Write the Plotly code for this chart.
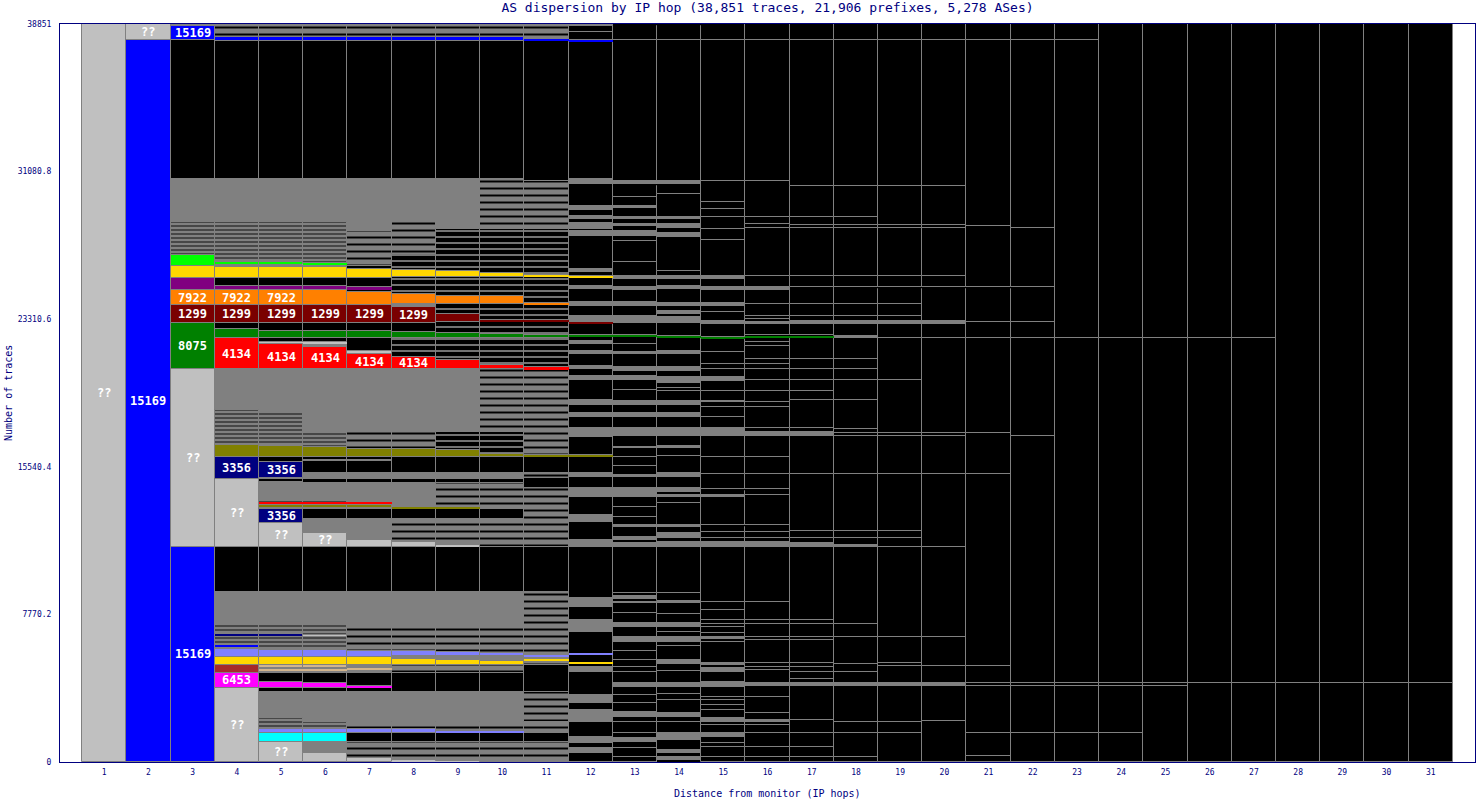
import plotly.graph_objects as go

TOTAL_TRACES = 38851
chart_title = "AS dispersion by IP hop (38,851 traces, 21,906 prefixes, 5,278 ASes)"
x_title = "Distance from monitor (IP hops)"
y_title = "Number of traces"
hops = list(range(1, 32))
y_tick_values = [0, 7770.2, 15540.4, 23310.6, 31080.8, 38851]
y_tick_labels = ["0", "7770.2", "15540.4", "23310.6", "31080.8", "38851"]

# Each hop column: segments from bottom to top as
# (cumulative trace count at segment top, colour code, optional AS label)
hop01 = [(38851, "L", "??")]
hop02 = [(38008, "B", "15169"), (38851, "L", "??")]
hop03 = [(11334, "B", "15169"), (20665, "L", "??"), (23090, "g", "8075"), (24039, "r", "1299"),
         (24829, "o", "7922"), (25462, "p"), (26094, "y"), (26674, "l"), (28414, "D"), (30681, "G"),
         (38008, "K"), (38746, "B", "15169"), (38851, "G")]
hop04 = [(3901, "L", "??"), (4692, "m", "6453"), (5113, "b"), (5535, "y"), (5957, "w"), (6010, "D"),
         (6168, "B"), (6590, "D"), (6748, "N"), (7222, "D"), (8962, "G"), (11334, "K"),
         (14919, "L", "??"), (16078, "N", "3356"), (16711, "O"), (18556, "D"), (20665, "G"),
         (22299, "R", "4134"), (22773, "g"), (23090, "K"), (24039, "r", "1299"), (24829, "o", "7922"),
         (25040, "p"), (25462, "K"), (26042, "y"), (26147, "G"), (26305, "l"), (28414, "D"),
         (30681, "G"), (37956, "K"), (38166, "B"), (38851, "H")]
hop05 = [(1054, "L", "??"), (1529, "c"), (1740, "w"), (2320, "D"), (3690, "G"), (3901, "K"), (4217, "m"),
         (4692, "K"), (4797, "G"), (4903, "t"), (4955, "G"), (5113, "t"), (5535, "y"), (5904, "w"),
         (6590, "D"), (6748, "N"), (7222, "D"), (8962, "G"), (11334, "K"), (12599, "L", "??"),
         (13337, "N", "3356"), (13390, "G"), (13548, "O"), (13601, "K"), (13706, "R"), (13812, "D"),
         (14760, "G"), (14919, "K"), (14971, "G"), (15815, "N", "3356"), (16078, "K"), (16658, "O"),
         (18398, "D"), (20665, "G"), (21983, "R", "4134"), (22088, "L"), (22299, "K"), (22668, "g"),
         (23090, "K"), (24039, "r", "1299"), (24829, "o", "7922"), (25040, "p"), (25462, "K"),
         (26042, "y"), (26147, "G"), (26305, "l"), (28414, "D"), (30681, "G"), (37956, "K"),
         (38166, "B"), (38851, "H")]
hop06 = [(474, "L"), (1054, "G"), (1529, "c"), (1740, "w"), (2109, "D"), (3690, "G"), (3901, "K"),
         (4165, "m"), (4692, "K"), (4797, "G"), (4903, "t"), (4955, "G"), (5113, "t"), (5535, "y"),
         (5904, "w"), (6590, "D"), (6695, "L"), (7222, "D"), (8962, "G"), (11334, "K"),
         (12072, "L", "??"), (12810, "G"), (13337, "K"), (13390, "G"), (13548, "O"), (13601, "G"),
         (13653, "R"), (13812, "D"), (14708, "G"), (14919, "K"), (15235, "G"), (15868, "K"),
         (15920, "G"), (16078, "K"), (16606, "O"), (17396, "D"), (20665, "G"), (21824, "R", "4134"),
         (21983, "G"), (22088, "L"), (22299, "K"), (22668, "g"), (23090, "K"), (24039, "r", "1299"),
         (24829, "o"), (25040, "p"), (25462, "K"), (26042, "y"), (26147, "G"), (26253, "l"),
         (28414, "D"), (30681, "G"), (37956, "K"), (38166, "B"), (38851, "H")]
hop07 = [(211, "L"), (1054, "H"), (1529, "K"), (1740, "w"), (2109, "H"), (3690, "G"), (3901, "K"),
         (4006, "m"), (4692, "K"), (4850, "G"), (4955, "t"), (5113, "G"), (5535, "y"), (5851, "w"),
         (7222, "H"), (8962, "G"), (11334, "K"), (11703, "L"), (12810, "G"), (13337, "K"), (13390, "G"),
         (13548, "O"), (13601, "G"), (13653, "R"), (14708, "G"), (14919, "K"), (15235, "G"),
         (15868, "K"), (15920, "G"), (16078, "K"), (16500, "O"), (17396, "H"), (20665, "G"),
         (21455, "R", "4134"), (21614, "L"), (22299, "K"), (22668, "g"), (23090, "K"),
         (24039, "r", "1299"), (24724, "o"), (24882, "K"), (24987, "p"), (25462, "K"), (25936, "y"),
         (26094, "K"), (27939, "H"), (30681, "G"), (37956, "K"), (38166, "B"), (38851, "H")]
hop08 = [(105, "L"), (1054, "H"), (1529, "K"), (1740, "w"), (2109, "H"), (3690, "G"), (4692, "K"),
         (5113, "H"), (5430, "y"), (5588, "G"), (5851, "w"), (7222, "H"), (8962, "G"), (11334, "K"),
         (11598, "L"), (12810, "H"), (13337, "K"), (13443, "O"), (14708, "G"), (14919, "K"),
         (15235, "G"), (16078, "K"), (16500, "O"), (17396, "H"), (20665, "G"), (21297, "R", "4134"),
         (22299, "J"), (22615, "g"), (23090, "K"), (23933, "r", "1299"), (24091, "G"), (24618, "o"),
         (25515, "J"), (25884, "y"), (26727, "J"), (28414, "H"), (30681, "G"), (37956, "K"),
         (38166, "B"), (38851, "H")]
hop09 = [(53, "L"), (1054, "H"), (1529, "K"), (1634, "w"), (2109, "H"), (3690, "G"), (4692, "K"),
         (5113, "H"), (5377, "y"), (5588, "G"), (5799, "w"), (7222, "H"), (8962, "G"), (11334, "K"),
         (11439, "L"), (12810, "H"), (13337, "K"), (13390, "O"), (14708, "H"), (14919, "K"),
         (15235, "G"), (16078, "K"), (16447, "O"), (17396, "J"), (20665, "G"), (21139, "R"),
         (22299, "J"), (22562, "g"), (23142, "J"), (23564, "r"), (24091, "J"), (24513, "o"),
         (25515, "J"), (25831, "y"), (28045, "J"), (30681, "G"), (37956, "K"), (38166, "B"),
         (38851, "H")]
hop10 = [(1054, "H"), (1529, "K"), (1634, "w"), (2109, "H"), (3690, "G"), (4692, "K"), (5113, "H"),
         (5324, "y"), (5588, "G"), (5746, "w"), (7222, "H"), (8962, "G"), (11334, "K"), (12810, "H"),
         (13337, "K"), (14708, "H"), (14919, "K"), (15235, "G"), (16078, "K"), (16237, "O"),
         (17396, "J"), (20665, "H"), (20876, "R"), (22299, "J"), (22510, "g"), (23142, "J"),
         (23248, "r"), (24091, "J"), (24513, "o"), (25515, "J"), (25725, "y"), (28045, "J"),
         (30681, "H"), (37956, "K"), (38166, "B"), (38851, "H")]
hop11 = [(1054, "H"), (1529, "K"), (2109, "H"), (3690, "H"), (5113, "K"), (5324, "H"), (5430, "y"),
         (5535, "G"), (5588, "w"), (7222, "H"), (8962, "H"), (11334, "K"), (14444, "H"), (14971, "K"),
         (15235, "H"), (16078, "K"), (16184, "O"), (17396, "H"), (20665, "H"), (20770, "R"),
         (22299, "J"), (22457, "g"), (23142, "J"), (23248, "r"), (24091, "J"), (24144, "o"),
         (25515, "J"), (25620, "y"), (28045, "J"), (30575, "H"), (37956, "K"), (38061, "B"),
         (38851, "H")]
hop12 = [(474, "K"), (738, "G"), (1002, "K"), (1318, "G"), (2109, "K"), (2741, "G"), (3110, "K"),
         (3532, "G"), (4744, "K"), (5008, "G"), (5166, "K"), (5219, "y"), (5641, "K"), (5693, "w"),
         (6853, "K"), (7486, "G"), (8171, "K"), (8645, "G"), (11334, "K"), (11703, "G"), (12652, "K"),
         (13021, "G"), (13970, "K"), (14444, "G"), (15024, "K"), (15235, "G"), (16078, "K"),
         (16184, "O"), (17133, "K"), (17607, "G"), (18187, "K"), (18398, "G"), (18820, "K"),
         (19083, "G"), (20085, "K"), (20296, "G"), (20665, "K"), (20823, "G"), (21455, "K"),
         (21614, "G"), (21983, "K"), (22141, "G"), (22352, "K"), (22457, "g"), (23090, "K"),
         (23142, "r"), (23459, "G"), (23986, "K"), (24197, "G"), (24882, "K"), (25040, "G"),
         (25515, "K"), (25567, "y"), (25778, "K"), (25936, "G"), (27676, "K"), (27939, "G"),
         (28045, "K"), (28361, "G"), (28572, "K"), (28730, "G"), (29047, "K"), (29257, "G"),
         (30417, "K"), (30681, "G"), (37903, "K"), (38008, "B"), (38430, "K"), (38746, "K"),
         (38851, "G")]
hop13 = [(264, "K"), (738, "K"), (1054, "K"), (1265, "G"), (1529, "K"), (2109, "K"), (2372, "K"),
         (2636, "G"), (3110, "K"), (3532, "K"), (3954, "K"), (4165, "G"), (4744, "K"), (5008, "K"),
         (5377, "K"), (5851, "K"), (6326, "K"), (6590, "G"), (7117, "K"), (7328, "G"), (7855, "K"),
         (8382, "K"), (8487, "G"), (8593, "K"), (8751, "G"), (8909, "K"), (11334, "K"), (11545, "G"),
         (11703, "K"), (11861, "G"), (12388, "K"), (12494, "G"), (12915, "K"), (13443, "K"),
         (13970, "K"), (14444, "G"), (15024, "K"), (15129, "G"), (15604, "K"), (16078, "K"),
         (16553, "K"), (16606, "G"), (17185, "K"), (17607, "G"), (18187, "K"), (18398, "G"),
         (18820, "K"), (19030, "G"), (19610, "K"), (20085, "K"), (20296, "G"), (20559, "K"),
         (20770, "G"), (21455, "K"), (21561, "G"), (21983, "K"), (22352, "K"), (22457, "g"),
         (23090, "K"), (23459, "G"), (23986, "K"), (24197, "G"), (24829, "K"), (24987, "G"),
         (25462, "K"), (25567, "G"), (26305, "K"), (27412, "K"), (27676, "K"), (27939, "G"),
         (28203, "K"), (28308, "G"), (28572, "K"), (28678, "G"), (29152, "K"), (29257, "G"),
         (29732, "K"), (30312, "K"), (30417, "K"), (30575, "G"), (38008, "K"), (38746, "K"),
         (38851, "K")]
hop14 = [(105, "K"), (264, "G"), (474, "K"), (633, "G"), (1160, "K"), (1529, "G"), (2109, "K"),
         (2372, "K"), (2583, "G"), (3268, "K"), (3585, "K"), (3954, "K"), (4165, "G"), (4797, "K"),
         (5166, "K"), (5377, "G"), (6115, "K"), (6326, "K"), (6590, "G"), (6853, "K"), (7117, "K"),
         (7328, "G"), (7802, "K"), (8382, "K"), (8487, "G"), (8909, "K"), (11334, "K"), (11598, "G"),
         (11808, "K"), (12072, "G"), (12388, "K"), (12494, "G"), (13653, "K"), (13970, "K"),
         (14075, "G"), (14233, "K"), (14444, "G"), (15024, "K"), (15235, "G"), (16131, "K"),
         (16553, "K"), (16658, "G"), (17185, "K"), (17607, "G"), (18187, "K"), (18398, "G"),
         (18820, "K"), (19030, "G"), (19505, "K"), (19663, "K"), (19927, "K"), (20243, "G"),
         (20559, "K"), (20770, "G"), (21455, "K"), (21614, "G"), (22352, "K"), (22404, "g"),
         (23090, "K"), (23406, "G"), (23617, "K"), (23722, "G"), (23986, "K"), (24144, "G"),
         (24882, "K"), (25040, "G"), (25462, "K"), (25567, "G"), (25831, "K"), (27623, "K"),
         (27834, "G"), (28098, "K"), (28308, "G"), (28572, "K"), (28678, "G"), (29890, "K"),
         (30312, "K"), (30417, "K"), (30575, "G"), (38008, "K"), (38746, "K"), (38851, "K")]
hop15 = [(264, "K"), (791, "K"), (1002, "K"), (1318, "K"), (1529, "G"), (1950, "K"), (2109, "K"),
         (2320, "G"), (2741, "K"), (3005, "K"), (3268, "K"), (3427, "K"), (3954, "K"), (4217, "G"),
         (4744, "K"), (4955, "G"), (5113, "K"), (5219, "G"), (6326, "K"), (6484, "K"), (6590, "G"),
         (6800, "K"), (7117, "K"), (7275, "K"), (7486, "K"), (8013, "K"), (8435, "K"), (11334, "K"),
         (11598, "G"), (11808, "K"), (12125, "K"), (12388, "K"), (12494, "K"), (13970, "K"),
         (14075, "G"), (14286, "K"), (14391, "K"), (15182, "K"), (16078, "K"), (17185, "K"),
         (17607, "G"), (18187, "K"), (18714, "K"), (18978, "K"), (19030, "G"), (19505, "K"),
         (20032, "K"), (20243, "G"), (20665, "K"), (20928, "K"), (21561, "K"), (22299, "K"),
         (22352, "g"), (23090, "K"), (23195, "G"), (23669, "K"), (23986, "K"), (24144, "G"),
         (24882, "K"), (24987, "G"), (25462, "K"), (25567, "G"), (27465, "K"), (28045, "K"),
         (28678, "K"), (29099, "K"), (29468, "K"), (30575, "K"), (38008, "K"), (38746, "K"),
         (38851, "K")]
hop16 = [(264, "K"), (791, "K"), (1529, "K"), (1950, "K"), (2109, "K"), (2214, "G"), (2583, "K"),
         (3321, "K"), (3427, "K"), (4006, "K"), (4165, "G"), (4850, "K"), (5008, "K"), (5219, "K"),
         (6431, "K"), (6590, "K"), (7275, "K"), (7486, "K"), (8435, "K"), (11334, "K"), (11598, "G"),
         (11808, "K"), (12125, "K"), (12388, "K"), (12494, "K"), (14075, "K"), (14286, "K"),
         (14391, "K"), (15182, "K"), (16078, "K"), (17185, "K"), (17396, "G"), (17607, "K"),
         (18714, "K"), (18978, "K"), (19505, "K"), (20085, "K"), (20665, "K"), (20928, "K"),
         (21192, "K"), (21877, "K"), (22088, "K"), (22352, "K"), (22404, "g"), (22457, "K"),
         (23090, "K"), (23195, "G"), (23300, "K"), (23459, "K"), (24091, "K"), (24882, "K"),
         (24987, "G"), (25567, "K"), (28098, "K"), (28308, "K"), (28678, "K"), (30575, "K"),
         (38008, "K"), (38851, "K")]
hop17 = [(264, "K"), (791, "K"), (1529, "K"), (2214, "K"), (4006, "K"), (4165, "G"), (4375, "K"),
         (4744, "K"), (5008, "K"), (5219, "K"), (6431, "K"), (6590, "K"), (7275, "K"), (7486, "K"),
         (11334, "K"), (11545, "G"), (11808, "K"), (12177, "K"), (15182, "K"), (17185, "K"),
         (17396, "G"), (17607, "K"), (19083, "K"), (19505, "K"), (20085, "K"), (20665, "K"),
         (21192, "K"), (22299, "K"), (22404, "g"), (22457, "K"), (23090, "K"), (23195, "G"),
         (23459, "K"), (24091, "K"), (24987, "K"), (25567, "K"), (28098, "K"), (28256, "K"),
         (28678, "K"), (30312, "K"), (38008, "K"), (38851, "K")]
hop18 = [(264, "K"), (1529, "K"), (2109, "K"), (4006, "K"), (4165, "G"), (4744, "K"), (5166, "K"),
         (6590, "K"), (7275, "K"), (11334, "K"), (11439, "G"), (11808, "K"), (12177, "K"),
         (15182, "K"), (17185, "K"), (17344, "K"), (17554, "K"), (19083, "K"), (20085, "K"),
         (20665, "K"), (21192, "K"), (22299, "K"), (22404, "G"), (23090, "K"), (23195, "G"),
         (23459, "K"), (24091, "K"), (24882, "K"), (24987, "K"), (25567, "K"), (28098, "K"),
         (28256, "K"), (28678, "K"), (30312, "K"), (38008, "K"), (38851, "K")]
hop19 = [(1529, "K"), (2109, "K"), (4006, "K"), (4165, "G"), (5061, "K"), (5219, "K"), (6590, "K"),
         (11334, "K"), (11808, "K"), (12177, "K"), (15182, "K"), (17185, "K"), (17344, "K"),
         (20085, "K"), (22299, "K"), (23090, "K"), (23195, "G"), (23459, "K"), (24091, "K"),
         (24882, "K"), (24987, "K"), (25567, "K"), (28098, "K"), (28256, "K"), (30312, "K"),
         (38008, "K"), (38851, "K")]
hop20 = [(2161, "K"), (4006, "K"), (4165, "G"), (5061, "K"), (6590, "K"), (11334, "K"), (15182, "K"),
         (17185, "K"), (17344, "K"), (22299, "K"), (23090, "K"), (23195, "G"), (24882, "K"),
         (24987, "K"), (25567, "K"), (28098, "K"), (28256, "K"), (30312, "K"), (38008, "K"),
         (38851, "K")]
hop21 = [(316, "K"), (1529, "K"), (4006, "K"), (4165, "K"), (5061, "K"), (15182, "K"), (17344, "K"),
         (22299, "K"), (23142, "K"), (24882, "K"), (24987, "K"), (28203, "K"), (38008, "K"),
         (38851, "K")]
hop22 = [(1529, "K"), (4006, "K"), (4165, "K"), (17185, "K"), (22299, "K"), (23142, "K"),
         (24882, "K"), (24987, "K"), (28098, "K"), (38008, "K"), (38851, "K")]
hop23 = [(1529, "K"), (4006, "K"), (4165, "K"), (22299, "K"), (38008, "K"), (38851, "K")]
hop24 = [(1529, "K"), (4006, "K"), (4165, "K"), (22299, "K"), (38851, "K")]
hop25 = [(4006, "K"), (4165, "K"), (22299, "K"), (38851, "K")]
hop26 = [(4165, "K"), (22299, "K"), (38851, "K")]
hop27 = [(4165, "K"), (22299, "K"), (38851, "K")]
hop28 = [(4165, "K"), (38851, "K")]
hop29 = [(4165, "K"), (38851, "K")]
hop30 = [(4165, "K"), (38851, "K")]
hop31 = [(4165, "K"), (38851, "K")]

columns = [hop01, hop02, hop03, hop04, hop05, hop06, hop07, hop08, hop09, hop10, hop11,
           hop12, hop13, hop14, hop15, hop16, hop17, hop18, hop19, hop20, hop21, hop22,
           hop23, hop24, hop25, hop26, hop27, hop28, hop29, hop30, hop31]

# colour codes
solid = {
    "K": "#000000", "G": "#808080", "L": "#c0c0c0", "B": "#0000ff", "N": "#000080",
    "g": "#008000", "r": "#7a0000", "o": "#ff8000", "p": "#800080", "y": "#ffd700",
    "l": "#00ff00", "R": "#ff0000", "O": "#808000", "m": "#ff00ff", "b": "#a52a2a",
    "w": "#8080ff", "c": "#00ffff", "t": "#d2b48c",
}
# hatched "many small ASes" blocks: (background, line colour, spacing, solidity)
hatched = {
    "H": ("#808080", "#000000", 7, 0.28),
    "D": ("#808080", "#404040", 4, 0.45),
    "J": ("#000000", "#808080", 6, 0.3),
}

NAVY = "#000080"
MONO = "DejaVu Sans Mono"

groups = {}
annotations = []
for hop, col in zip(hops, columns):
    prev = 0
    for seg in col:
        top, code = seg[0], seg[1]
        size = top - prev
        g = groups.setdefault(code, {"x": [], "y": [], "base": [], "lw": []})
        g["x"].append(hop)
        g["y"].append(size)
        g["base"].append(prev)
        g["lw"].append(1 if size >= 150 else 0)
        if len(seg) > 2 and seg[2]:
            annotations.append(dict(
                x=hop, y=prev + size / 2, xref="x", yref="y", text=seg[2],
                showarrow=False, font=dict(family=MONO, size=12, color="white", weight="bold")))
        prev = top

fig = go.Figure()
order = ["K", "G", "L", "H", "D", "J"] + [c for c in solid if c not in ("K", "G", "L")]
for code in order:
    if code not in groups:
        continue
    g = groups[code]
    if code in hatched:
        bg, fg, sz, sol = hatched[code]
        marker = dict(color=bg, line=dict(color="#808080", width=g["lw"]),
                      pattern=dict(shape="-", fgcolor=fg, bgcolor=bg, size=sz,
                                   solidity=sol, fillmode="replace"))
    else:
        marker = dict(color=solid[code], line=dict(color="#808080", width=g["lw"]))
    fig.add_trace(go.Bar(x=g["x"], y=g["y"], base=g["base"], width=1, marker=marker,
                         hoverinfo="skip", showlegend=False))

annotations.append(dict(x=0.5, y=0, xref="paper", yref="paper", yshift=-31, text=x_title,
                        showarrow=False, font=dict(family=MONO, size=10, color=NAVY),
                        xanchor="center", yanchor="middle"))
annotations.append(dict(x=0, y=0.5, xref="paper", yref="paper", xshift=-52, text=y_title,
                        textangle=-90, showarrow=False,
                        font=dict(family=MONO, size=10, color=NAVY),
                        xanchor="center", yanchor="middle"))

fig.update_layout(
    width=1476, height=800,
    margin=dict(l=60, r=1, t=24, b=38),
    paper_bgcolor="white", plot_bgcolor="white",
    barmode="overlay", bargap=0,
    title=dict(text=chart_title, x=0.5, xref="paper", xanchor="center", y=0.996, yanchor="top",
               font=dict(family=MONO, size=13, color=NAVY)),
    annotations=annotations,
    xaxis=dict(range=[0, 32], tickvals=hops, ticktext=[str(h) for h in hops], ticks="",
               showgrid=False, zeroline=False, showline=True, linecolor=NAVY, linewidth=1,
               mirror=True, tickfont=dict(family=MONO, size=8, color=NAVY), ticklabelstandoff=2),
    yaxis=dict(range=[0, TOTAL_TRACES], tickvals=y_tick_values, ticktext=y_tick_labels, ticks="",
               showgrid=False, zeroline=False, showline=True, linecolor=NAVY, linewidth=1,
               mirror=True, tickfont=dict(family=MONO, size=8, color=NAVY), ticklabelstandoff=6),
)

fig.write_html("out.html", config={"displayModeBar": False},
               post_script="document.body.style.margin='0px';document.body.style.overflow='hidden';")
